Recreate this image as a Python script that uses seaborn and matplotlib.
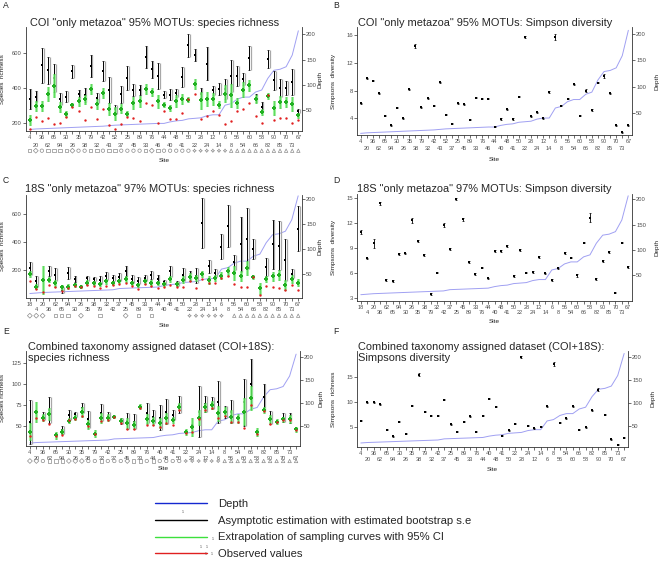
import numpy as np
import pandas as pd
import seaborn as sns
import matplotlib.pyplot as plt
from matplotlib.transforms import blended_transform_factory
from matplotlib.lines import Line2D

# ---------------- data ----------------
sites_coi = [4, 20, 36, 62, 65, 94, 30, 26, 35, 38, 79, 32, 42, 43, 52, 37, 25, 45, 89, 33,
             76, 46, 44, 40, 48, 41, 50, 22, 28, 24, 12, 14, 6, 8, 56, 54, 60, 66, 58, 82,
             90, 85, 70, 73, 67]
sites_18s = [18, 4, 20, 36, 62, 65, 94, 30, 26, 35, 38, 79, 32, 42, 37, 25, 45, 89, 33, 76,
             44, 40, 48, 41, 50, 22, 28, 24, 12, 14, 6, 8, 56, 54, 60, 66, 58, 82, 90, 85,
             70, 73, 67]
sites_comb = [4, 20, 36, 62, 65, 94, 30, 26, 35, 38, 79, 32, 42, 37, 25, 45, 89, 33, 76, 44,
              40, 48, 41, 50, 22, 28, 24, 12, 14, 6, 8, 56, 54, 60, 66, 58, 82, 90, 85, 70,
              73, 67]

# depth of every site (m)
depth_sites = [18] + sites_coi
depth_m = [11, 12, 13, 13.5, 14, 14.5, 15, 15.5, 16, 16.5, 17, 17.5, 18, 18.5, 19.5, 20.5,
           21, 21.5, 22, 22.5, 23, 23.5, 24, 24, 27, 29, 30, 33, 34, 35, 39, 41, 41, 60, 63,
           72, 76, 76, 86, 90, 113, 129, 131, 136, 159, 207]

# habitat symbols under the axis (s square, D diamond, o circle, + star, ^ triangle, . none)
shapes_coi = "sDoss" "ssDoo" "ssoss" "oooos" "Dsooo" "oo" "++++++" "^^^^^^^^^^^^"
shapes_18s = "DDD.s" "ss.D." ".s..." "D.s.s" "....." "++++++" "." "^^^^^^^^^^^"
shapes_comb = "DDoss" "sDDDo" "osooo" "Dssos" "oooo" "++++++" "^^^^^^^^^^^^"

# A: COI richness
a_est = [335, 350, 531, 502, 458, 335, 350, 496, 363, 358, 527, 342, 496, 387, 277, 363, 458,
         387, 390, 577, 508, 469, 362, 362, 371, 463, 646, 592, 367, 540, 387, 392, 392, 469,
         469, 450, 573, 342, 290, 569, 445, 400, 400, 433, 266]
a_se = [58, 32, 100, 76, 80, 34, 32, 38, 28, 40, 62, 30, 58, 75, 25, 50, 70, 34, 30, 63, 50,
        74, 18, 33, 25, 56, 67, 34, 31, 96, 25, 35, 58, 92, 58, 34, 68, 25, 28, 51, 54, 51,
        40, 75, 12]
a_ext = [213, 296, 296, 365, 412, 290, 252, 304, 323, 335, 396, 308, 371, 281, 252, 281, 252,
         313, 323, 396, 377, 323, 304, 285, 323, 338, 333, 425, 329, 338, 335, 304, 367, 358,
         315, 390, 415, 338, 262, 354, 285, 319, 319, 310, 242]
a_ci = [29, 27, 27, 40, 66, 30, 17, 12, 24, 27, 29, 30, 29, 35, 36, 28, 14, 33, 31, 29, 23, 36,
        13, 19, 34, 29, 15, 29, 48, 40, 34, 19, 50, 67, 29, 43, 34, 24, 19, 15, 40, 35, 29,
        40, 15]
a_obs = [162, 231, 212, 227, 192, 200, 231, 290, 265, 217, 290, 221, 277, 188, 162, 194, 231,
         227, 212, 315, 300, 200, 267, 223, 219, 258, 335, 367, 223, 238, 265, 246, 192, 208,
         265, 277, 313, 238, 200, 358, 213, 229, 229, 200, 217]

# B: COI Simpson
b_simp = [6.2, 9.8, 9.4, 7.6, 4.4, 3.0, 5.5, 4.0, 8.2, 14.4, 5.6, 6.9, 5.8, 9.2, 4.5, 3.2, 6.2,
          6.0, 3.8, 7.0, 6.8, 6.8, 2.8, 3.9, 5.3, 3.9, 7.1, 15.7, 4.3, 4.9, 4.0, 7.8, 15.7,
          5.8, 6.8, 8.9, 4.4, 8.0, 5.2, 9.1, 10.1, 7.6, 3.0, 2.0, 3.0]
b_se = [0.08, 0.08, 0.08, 0.08, 0.08, 0.08, 0.08, 0.08, 0.08, 0.25, 0.08, 0.08, 0.08, 0.08,
        0.08, 0.08, 0.08, 0.08, 0.08, 0.08, 0.08, 0.08, 0.08, 0.08, 0.08, 0.08, 0.08, 0.12,
        0.08, 0.08, 0.08, 0.08, 0.4, 0.08, 0.08, 0.08, 0.08, 0.2, 0.08, 0.08, 0.35, 0.08,
        0.08, 0.08, 0.08]

# C: 18S richness
c_est = [210, 116, 130, 193, 164, 55, 176, 133, 82, 140, 133, 128, 157, 140, 147, 188, 133, 123,
         140, 164, 133, 111, 188, 104, 164, 157, 157, 537, 224, 176, 364, 513, 253, 381, 422,
         349, 70, 217, 381, 373, 272, 171, 494]
c_se = [48, 36, 0, 36, 45, 18, 43, 20, 0, 17, 17, 29, 27, 24, 30, 36, 27, 24, 24, 28, 33, 18,
        41, 19, 45, 36, 52, 180, 48, 27, 90, 150, 54, 200, 217, 70, 0, 64, 175, 175, 150, 31,
        163]
c_ext = [169, 80, 129, 128, 104, 75, 80, 92, 80, 108, 104, 99, 116, 108, 120, 133, 108, 92, 116,
         104, 104, 99, 133, 99, 128, 147, 140, 171, 128, 140, 157, 188, 176, 152, 212, 147, 67,
         133, 152, 164, 92, 133, 108]
c_ci = [21, 19, 100, 19, 24, 17, 17, 12, 8, 17, 10, 12, 19, 15, 15, 24, 15, 15, 15, 22, 15, 12,
        24, 12, 24, 30, 24, 22, 29, 24, 24, 31, 50, 36, 52, 12, 38, 22, 29, 36, 36, 30, 27]
c_obs = [123, 60, 38, 92, 80, 48, 72, 84, 80, 94, 84, 67, 84, 92, 99, 104, 84, 63, 96, 87, 67,
         80, 92, 75, 80, 123, 67, 133, 108, 104, 140, 152, 96, 75, 80, 145, 22, 84, 75, 67, 55,
         92, 55]

# D: 18S Simpson
d_simp = [11.0, 7.8, 9.6, 14.4, 5.2, 5.1, 8.3, 8.4, 12.4, 9.9, 8.2, 3.5, 6.1, 11.8, 8.9, 14.9,
          12.5, 7.4, 5.9, 6.7, 5.4, 8.7, 8.65, 9.3, 5.7, 8.8, 6.1, 6.2, 8.0, 6.0, 5.2, 6.6, 8.4,
          7.9, 5.75, 9.7, 12.7, 5.3, 7.5, 8.6, 3.7, 9.7, 6.8]
d_se = [0.25, 0.1, 0.55, 0.15, 0.1, 0.1, 0.1, 0.1, 0.3, 0.15, 0.1, 0.1, 0.1, 0.2, 0.1, 0.15,
        0.2, 0.1, 0.1, 0.1, 0.1, 0.1, 0.1, 0.15, 0.1, 0.15, 0.1, 0.1, 0.1, 0.1, 0.1, 0.1, 0.12,
        0.1, 0.15, 0.1, 0.5, 0.1, 0.1, 0.1, 0.1, 0.1, 0.1]

# E: combined richness
e_est = [55, 67, 62, 69, 40, 45, 63, 64, 71, 58, 41, 66, 62, 61, 56, 56, 55, 73, 65, 61, 60, 67,
         63, 75, 43, 51, 67, 76, 77, 78, 67, 67, 59, 78, 100, 44, 84, 60, 56, 60, 60, 46]
e_se = [26, 0, 5, 15, 0, 5, 6, 3, 6, 10, 0, 10, 5, 0, 4, 9, 9, 0, 12, 8, 15, 15, 6, 10, 0, 0, 30,
        9, 7, 25, 7, 14, 0, 28, 30, 0, 16, 8, 0, 5, 6, 0]
e_ext = [43, 67, 60, 64, 39, 43, 56, 60, 67, 52, 41, 60, 60, 61, 56, 53, 51, 73, 58, 56, 54, 59,
         57, 73, 43, 49, 60, 72, 75, 65, 67, 61, 59, 67, 83, 43, 69, 58, 55, 58, 58, 46]
e_ci = [10, 12, 4, 7, 4, 3, 3, 3, 6, 5, 4, 6, 4, 2, 3, 6, 5, 3, 6, 5, 6, 7, 4, 4, 4, 11, 9, 5, 5,
        9, 5, 8, 5, 16, 14, 5, 4, 5, 3, 3, 5, 3]
e_obs = [38, 60, 57, 52, 38, 39, 57, 58, 62, 50, 40, 56, 57, 61, 54, 47, 46, 71, 51, 51, 49, 54,
         51, 69, 42, 43, 58, 69, 71, 60, 62, 55, 55, 48, 75, 40, 68, 52, 55, 57, 57, 45]

# F: combined Simpson
f_simp = [6.3, 10.0, 10.0, 9.6, 4.5, 3.2, 6.1, 3.7, 9.3, 15.5, 8.1, 7.3, 7.3, 10.5, 5.6, 4.1,
          6.1, 7.2, 4.1, 7.3, 10.7, 9.1, 3.3, 4.4, 5.7, 19.0, 5.3, 4.8, 5.1, 9.2, 17.6, 5.9, 6.8,
          9.2, 4.5, 5.0, 8.4, 12.5, 7.5, 2.6, 1.5, 2.9]
f_se = [0.08, 0.08, 0.08, 0.08, 0.08, 0.08, 0.08, 0.08, 0.08, 0.3, 0.08, 0.08, 0.08, 0.08, 0.08,
        0.08, 0.08, 0.08, 0.08, 0.08, 0.08, 0.08, 0.08, 0.08, 0.08, 0.15, 0.08, 0.08, 0.08, 0.08,
        0.4, 0.08, 0.08, 0.08, 0.08, 0.08, 0.08, 0.35, 0.08, 0.08, 0.08, 0.08]

legend_labels = ["Depth", "Asymptotic estimation with estimated bootstrap s.e",
                 "Extrapolation of sampling curves with 95% CI", "Observed values"]

# ---------------- style ----------------
sns.set_theme(style="white")
plt.rcParams['font.family'] = ['Liberation Sans', 'DejaVu Sans']

W, H = 660, 568
GRAY = '#4D4D4D'
DEPTH_COL = '#A0A0F2'
depth_of = dict(zip(depth_sites, depth_m))
MARKERS = {'s': 's', 'D': 'D', 'o': 'o', '^': '^', '+': (4, 1, 0)}

fig = plt.figure(figsize=(6.6, 5.68), dpi=100)


def make_panel(box, sites, ylim, yticks, ylabel, dlim, pads, site_y, ylab_x, dlab_x):
    l, t, r, b = box
    ax = fig.add_axes([l / W, 1 - b / H, (r - l) / W, (b - t) / H])
    n = len(sites)
    x = np.arange(n)
    ax.set_xlim(-0.6, n - 0.4)
    ax.set_ylim(*ylim)
    ax.set_yticks(yticks)
    ax.set_yticklabels([str(v) for v in yticks])
    ax.set_xticks(x[::2])
    ax.set_xticklabels([str(s) for s in sites[::2]])
    ax.set_xticks(x[1::2], minor=True)
    ax.set_xticklabels([str(s) for s in sites[1::2]], minor=True)
    ax.tick_params(axis='both', which='both', length=2, width=0.5, color='#333333',
                   labelcolor=GRAY, bottom=True, left=True)
    ax.tick_params(axis='y', labelsize=4.2, pad=1)
    ax.tick_params(axis='x', which='major', labelsize=4, pad=pads[0])
    ax.tick_params(axis='x', which='minor', labelsize=4, pad=pads[1])
    for side in ['left', 'bottom']:
        ax.spines[side].set_color('#333333')
        ax.spines[side].set_linewidth(0.6)
    ax.spines['top'].set_visible(False)
    ax.spines['right'].set_visible(False)
    ax.set_ylabel(ylabel, fontsize=4.6, color='#222222')
    ax.yaxis.set_label_coords((ylab_x - l) / (r - l), 0.5)
    ax.set_xlabel("Site", fontsize=4.6, color='#222222')
    ax.xaxis.set_label_coords(0.5, (b - site_y) / (b - t))

    ax2 = ax.twinx()
    dd = pd.DataFrame({'pos': x, 'depth': [depth_of[s] for s in sites]})
    sns.lineplot(data=dd, x='pos', y='depth', ax=ax2, color=DEPTH_COL, lw=0.7, zorder=1)
    ax2.set_ylim(*dlim)
    ax2.set_yticks([50, 100, 150, 200])
    ax2.set_yticklabels(['50', '100', '150', '200'])
    ax2.tick_params(axis='y', right=True, length=2, width=0.5, color='#333333',
                    labelcolor=GRAY, labelsize=4.2, pad=1)
    for side in ['left', 'bottom', 'top']:
        ax2.spines[side].set_visible(False)
    ax2.spines['right'].set_color('#333333')
    ax2.spines['right'].set_linewidth(0.6)
    ax2.set_ylabel("Depth", fontsize=4.6, color='#222222')
    ax2.yaxis.set_label_coords((dlab_x - l) / (r - l), 0.5)
    ax2.set_xlabel("")
    ax2.set_zorder(ax.get_zorder() - 1)
    ax.patch.set_visible(False)
    return ax, x


def add_shapes(ax, box, x, shapes, sym_y):
    l, t, r, b = box
    tr = blended_transform_factory(ax.transData, ax.transAxes)
    yy = (b - sym_y) / (b - t)
    for code, mk in MARKERS.items():
        idx = [i for i, c in enumerate(shapes) if c == code]
        if not idx:
            continue
        ax.scatter(x[idx], [yy] * len(idx), marker=mk, s=6, facecolors='none',
                   edgecolors='#8C8C8C', linewidths=0.5, transform=tr, clip_on=False)


def richness(ax, x, est, se, ext, ci, obs):
    est = np.array(est, float); se = np.array(se, float)
    ext = np.array(ext, float); ci = np.array(ci, float)
    # bootstrap s.e. (gray line next to black bar)
    ax.vlines(x + 0.28, est - se, est + se, color='#A8A8A8', lw=0.9, zorder=2)
    ax.errorbar(x, est, yerr=se, fmt='none', ecolor='black', elinewidth=0.7,
                capsize=0.8, capthick=0.5, zorder=3)
    sns.scatterplot(x=x, y=est, ax=ax, color='black', marker='s', s=4, linewidth=0, zorder=4)
    # extrapolation CI
    ax.vlines(x, ext - ci, ext + ci, color='#8EF08E', lw=2.2, alpha=0.85, zorder=5)
    ax.errorbar(x, ext, yerr=ci, fmt='none', ecolor='#2EC82E', elinewidth=0.4,
                capsize=0.8, capthick=0.4, zorder=6)
    sns.scatterplot(x=x, y=ext, ax=ax, color='#22B022', marker='P', s=5, linewidth=0, zorder=7)
    sns.scatterplot(x=x, y=obs, ax=ax, color='#E02020', marker='o', s=3, linewidth=0, zorder=8)


def simpson(ax, x, val, se):
    val = np.array(val, float); se = np.array(se, float)
    ax.errorbar(x, val, yerr=se, fmt='none', ecolor='black', elinewidth=0.6,
                capsize=0.8, capthick=0.5, zorder=3)
    sns.scatterplot(x=x, y=val, ax=ax, color='black', marker='s', s=4, linewidth=0, zorder=4)


# ---------------- panels ----------------
boxA = (26, 27, 302, 131)
axA, xA = make_panel(boxA, sites_coi, (152, 752), [200, 400, 600], "Species  richness",
                     (9, 214.5), (1.2, 6.5), 157.5, 5, 318)
richness(axA, xA, a_est, a_se, a_ext, a_ci, a_obs)
add_shapes(axA, boxA, xA, shapes_coi, 150.7)

boxB = (357, 27, 632, 135)
axB, xB = make_panel(boxB, sites_coi, (1.6, 17.16), [4, 8, 12, 16], "Simpsons  diversity",
                     (8.9, 213.3), (1.2, 6.2), 157, 336, 655)
simpson(axB, xB, b_simp, b_se)

boxC = (26, 195, 302, 298)
axC, xC = make_panel(boxC, sites_18s, (-2.4, 735.7), [200, 400, 600], "Species  richness",
                     (2, 208.7), (0.8, 4.8), 323, 5, 318)
richness(axC, xC, c_est, c_se, c_ext, c_ci, c_obs)
add_shapes(axC, boxC, xC, shapes_18s, 315.7)

boxD = (357, 194, 632, 300.7)
axD, xD = make_panel(boxD, sites_18s, (2.72, 15.52), [3, 6, 9, 12, 15], "Simpsons  diversity",
                     (-0.9, 210.6), (1.2, 4.6), 319, 336, 655)
simpson(axD, xD, d_simp, d_se)

boxE = (26, 350.7, 300, 446)
axE, xE = make_panel(boxE, sites_comb, (26.3, 139.3), [50, 75, 100, 125], "Species richness",
                     (5.4, 214.6), (1.0, 5.0), 466, 5, 318)
richness(axE, xE, e_est, e_se, e_ext, e_ci, e_obs)
add_shapes(axE, boxE, xE, shapes_comb, 461)

boxF = (357, 351, 628, 446.7)
axF, xF = make_panel(boxF, sites_comb, (1.1, 20.2), [5, 10, 15], "Simpsons  richness",
                     (3.9, 212.4), (1.0, 5.4), 467, 336, 651)
simpson(axF, xF, f_simp, f_se)

# ---------------- titles and letters ----------------
TFS = 7.9


def ftext(xp, yp, s, **kw):
    fig.text(xp / W, 1 - yp / H, s, va='baseline', ha='left', **kw)


ftext(30, 26.5, 'COI "only metazoa" 95% MOTUs: species richness', fontsize=TFS)
ftext(358, 26.5, 'COI "only metazoa" 95% MOTUs: Simpson diversity', fontsize=TFS)
ftext(25, 192, '18S "only metazoa" 97% MOTUs: species richness', fontsize=TFS)
ftext(357, 192, '18S "only metazoa" 97% MOTUs: Simpson diversity', fontsize=TFS)
ftext(28, 349.5, 'Combined taxonomy assigned dataset (COI+18S):', fontsize=TFS)
ftext(28, 361, 'species richness', fontsize=TFS)
ftext(358, 349.5, 'Combined taxonomy assigned dataset (COI+18S):', fontsize=TFS)
ftext(358, 361, 'Simpsons diversity', fontsize=TFS)

for lx, ly, letter in [(3, 8, 'A'), (333, 8, 'B'), (3, 183, 'C'), (333, 183, 'D'),
                       (3, 334, 'E'), (333, 334, 'F')]:
    ftext(lx, ly, letter, fontsize=6.2)

# ---------------- legend ----------------
handles = [Line2D([], [], color='#1428D0', lw=1.0),
           Line2D([], [], color='black', lw=1.0),
           Line2D([], [], color='#3CE03C', lw=1.0),
           Line2D([], [], color='#E02020', lw=1.0)]
fig.legend(handles, legend_labels, loc='upper left', bbox_to_anchor=(155 / W, 1 - 499 / H),
           frameon=False, fontsize=8.1, handlelength=4.6, handletextpad=1.0,
           labelspacing=0.6, borderpad=0, borderaxespad=0)

# stray tiny glyphs near the legend keys
for tx, ty in [(182, 513), (200, 548), (206, 548), (212, 540), (205, 555), (211, 555)]:
    ftext(tx, ty, '1', fontsize=2.5, color='#444444')

fig.savefig("out.png", dpi=100)
